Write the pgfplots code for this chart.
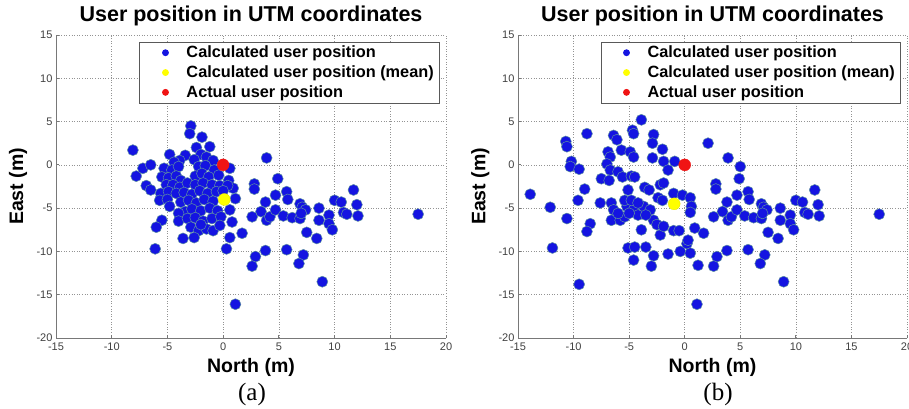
\documentclass[border=0pt]{standalone}
\usepackage{fontspec}
\setmainfont{Liberation Sans}
\newfontfamily\serifcap{Liberation Serif}
\usepackage{pgfplots}
\pgfplotsset{compat=1.18}
\usepackage{pgfplotstable}

\definecolor{mblue}{RGB}{20,20,225}
\definecolor{medge}{RGB}{95,145,160}
\definecolor{myellow}{RGB}{255,255,0}
\definecolor{mred}{RGB}{240,20,20}
\definecolor{axgray}{RGB}{120,120,120}

% points common to both panels (North > ~1.5 m)
\pgfplotstableread{
x y
3.9 0.8
4.9 -1.6
2.8 -2.2
2.8 -2.8
4.7 -3.5
3.8 -4.3
5.7 -3.1
5.8 -4.0
6.9 -4.5
7.1 -4.9
7.4 -5.2
3.4 -5.4
2.6 -6.0
3.9 -6.4
4.2 -6.0
4.7 -5.2
5.4 -5.9
6.2 -6.1
6.9 -6.2
7.0 -5.6
8.6 -5.0
8.6 -6.4
9.5 -5.8
9.5 -6.8
9.8 -7.5
10.0 -4.1
10.6 -4.3
10.8 -5.5
11.1 -5.7
11.7 -2.9
12.0 -4.6
12.1 -5.9
17.5 -5.7
7.5 -7.8
8.4 -8.5
5.7 -9.8
7.2 -10.4
6.8 -11.4
3.8 -9.9
2.9 -10.6
2.6 -11.7
8.9 -13.5
1.1 -16.1
1.7 -7.9
}\commonR

% panel (a), remaining points
\pgfplotstableread{
x y
-8.1 1.7
-7.8 -1.3
-7.2 -0.4
-6.5 0.0
-6.9 -2.4
-6.5 -2.9
-2.9 4.5
-3.0 3.6
-1.9 3.2
-1.2 2.1
-2.4 2.0
-3.4 1.1
-4.8 1.2
-2.0 1.2
-1.5 0.9
-0.9 0.5
-2.6 0.6
-3.9 0.5
-4.4 0.3
-5.3 -0.4
-4.6 -0.6
-4.0 -0.2
-2.2 -0.2
-1.6 -0.1
-0.8 -0.6
0.6 -0.4
-5.5 -1.4
-4.9 -1.5
-4.2 -1.3
-3.8 -1.8
-2.5 -1.3
-1.9 -1.0
-1.3 -1.4
-0.4 -1.2
0.5 -1.8
-5.1 -2.3
-4.5 -2.3
-3.9 -2.6
-3.2 -2.1
-2.5 -2.3
-1.8 -2.1
-1.0 -2.3
-0.3 -2.4
0.9 -2.7
0.4 -2.4
-5.6 -3.3
-4.9 -3.1
-4.2 -3.3
-3.5 -3.2
-2.8 -3.4
-2.1 -3.0
-1.4 -3.3
-0.6 -3.1
0.0 -3.0
-5.7 -4.1
-5.0 -4.0
-3.8 -4.3
-3.1 -4.1
-2.4 -4.4
-1.7 -4.0
-0.9 -4.2
1.1 -3.9
-4.8 -4.8
-3.4 -5.4
-2.8 -5.1
-2.0 -5.3
-1.2 -5.0
-0.5 -5.3
0.6 -5.2
-4.0 -5.6
-5.5 -6.4
-4.0 -6.5
-3.2 -6.2
-2.5 -6.1
-1.8 -6.5
-1.0 -6.2
-0.2 -6.0
0.8 -6.6
-6.0 -7.2
-2.9 -7.2
-2.2 -7.6
-1.5 -7.4
-0.9 -7.6
-0.3 -7.0
-2.0 -6.9
-3.6 -8.5
-2.6 -8.4
0.6 -8.4
-6.1 -9.7
0.3 -9.7
}\pointsA

% panel (b), remaining points
\pgfplotstableread{
x y
-3.9 5.2
-4.7 4.0
-4.6 3.6
-2.8 3.5
-2.9 2.5
-8.8 3.6
-10.7 2.7
-10.6 2.1
-6.4 3.4
-6.1 2.9
-2.0 1.8
-2.9 0.8
-1.9 0.4
-1.5 -0.6
-0.9 0.4
-10.2 0.4
-10.3 -0.2
-9.5 -0.5
-6.9 1.5
-6.7 0.9
-7.0 0.1
-6.7 -0.6
-5.7 1.7
-4.9 1.5
-4.6 0.9
-6.0 -0.8
-5.6 -1.4
-4.8 -1.3
-4.5 -1.4
-7.5 -1.6
-6.8 -1.8
-9.0 -2.8
-13.9 -3.4
-9.6 -4.1
-12.1 -4.9
-10.6 -6.2
-8.5 -6.8
-8.8 -7.7
-11.9 -9.6
-9.5 -13.8
-7.6 -4.4
-3.6 -2.6
-3.2 -2.9
-2.2 -2.3
-2.4 -3.8
-2.0 -4.1
-5.1 -2.9
-6.6 -4.4
-6.4 -5.2
-6.6 -6.4
-5.8 -6.4
-5.4 -6.0
-5.2 -4.8
-4.6 -5.2
-4.2 -5.8
-3.7 -4.8
-3.1 -5.2
-2.8 -6.4
-2.5 -6.9
-5.4 -4.1
-4.8 -4.1
-4.2 -4.4
-6.0 -5.6
-5.0 -5.6
-3.5 -5.8
-3.9 -7.5
-2.2 -8.1
-1.9 -7.1
-1.0 -7.6
-0.5 -7.6
-5.1 -9.6
-4.5 -9.5
-4.6 -11.0
-3.5 -9.5
-2.8 -10.5
-3.0 -11.7
-1.5 -10.3
-0.4 -10.0
0.2 -9.1
0.5 -10.2
0.3 -8.7
1.2 -11.6
0.9 -7.3
-1.0 -3.3
-0.2 -3.5
0.5 -3.8
0.6 -4.8
0.5 -5.5
-1.9 -2.1
2.1 2.5
5.0 -0.2
}\pointsB

\pgfplotsset{
  utm/.style={
    scale only axis, height=303pt,
    xmin=-15, xmax=20, ymin=-20, ymax=15,
    xtick={-15,-10,...,20}, ytick={-20,-15,...,15},
    axis x line*=bottom, axis y line*=left,
    axis line style={axgray, line width=1pt},
    tick align=inside, major tick length=3pt,
    tick style={axgray, line width=0.8pt},
    grid=major,
    major grid style={axgray!80, line width=0.7pt, dash pattern=on 0.8pt off 1.8pt},
    /pgf/number format/assume math mode=true,
    ticklabel style={font=\fontsize{11}{13}\selectfont, text=black!75},
    xticklabel style={yshift=-1pt},
    title={User position in UTM coordinates},
    every axis title shift=0pt,
    title style={font=\bfseries\fontsize{21.5}{24}\selectfont,
      at={(axis description cs:0.5,1.0627)}, anchor=center},
    xlabel={North (m)}, ylabel={East (m)},
    xlabel style={font=\bfseries\fontsize{19.5}{22}\selectfont,
      at={(axis description cs:0.5,-0.0957)}, anchor=center},
    ylabel style={font=\bfseries\fontsize{19.5}{22}\selectfont,
      at={(axis description cs:-0.097,0.5)}, anchor=center},
    legend style={at={(axis description cs:0.985,0.978)}, anchor=north east,
      draw=black!65, line width=0.8pt, fill=white,
      font=\bfseries\fontsize{16.3}{18}\selectfont,
      inner xsep=4pt, inner ysep=2pt, row sep=2.5pt,
      nodes={inner sep=2pt}},
    legend cell align=left,
  },
  bluepts/.style={only marks, mark=*, mark size=5.5pt,
    mark options={fill=mblue, draw=medge, line width=0.5pt},
    legend image code/.code={\path[draw=none,fill=none] (0pt,-3pt) rectangle (40.6pt,3pt);
      \fill[mblue] (21.6pt,0pt) circle (3pt);}},
  yellowpt/.style={only marks, mark=*, mark size=6pt,
    mark options={fill=myellow, draw=myellow!90!black, line width=0.3pt},
    legend image code/.code={\path[draw=none,fill=none] (0pt,-3pt) rectangle (40.6pt,3pt);
      \fill[myellow] (21.6pt,0pt) circle (3pt);}},
  redpt/.style={only marks, mark=*, mark size=6pt,
    mark options={fill=mred, draw=mred, line width=0.3pt},
    legend image code/.code={\path[draw=none,fill=none] (0pt,-3pt) rectangle (40.6pt,3pt);
      \fill[mred] (21.6pt,0pt) circle (3pt);}},
}

\begin{document}
\begin{tikzpicture}
\useasboundingbox (0pt,0pt) rectangle (909pt,408pt);

\begin{axis}[utm, width=390pt, at={(56pt,70pt)}, anchor=south west]
\addplot[bluepts] table {\commonR};
\addplot[bluepts, forget plot] table {\pointsA};
\addplot[yellowpt] coordinates {(0.1,-4.0)};
\addplot[redpt] coordinates {(0,0)};
\legend{Calculated user position, Calculated user position (mean), Actual user position}
\end{axis}

\begin{axis}[utm, width=389pt, at={(518pt,70pt)}, anchor=south west]
\addplot[bluepts] table {\commonR};
\addplot[bluepts, forget plot] table {\pointsB};
\addplot[yellowpt] coordinates {(-0.95,-4.5)};
\addplot[redpt] coordinates {(0,0)};
\legend{Calculated user position, Calculated user position (mean), Actual user position}
\end{axis}

\node[font=\serifcap\fontsize{25}{28}\selectfont] at (252pt,14pt) {(a)};
\node[font=\serifcap\fontsize{25}{28}\selectfont] at (718pt,14pt) {(b)};
\end{tikzpicture}
\end{document}
